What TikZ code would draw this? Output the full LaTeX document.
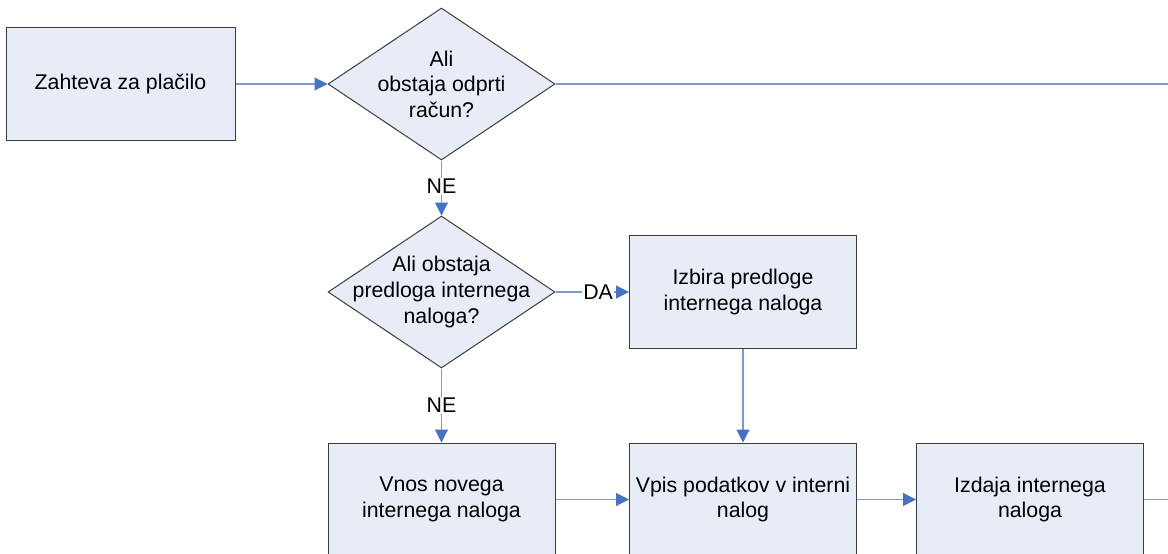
\documentclass[tikz,border=0pt]{standalone}
\usepackage{fontspec}
\setmainfont{Liberation Sans}
\usetikzlibrary{arrows.meta,shapes.geometric}
\definecolor{boxfill}{RGB}{231,236,247}
\definecolor{boxline}{RGB}{60,60,60}
\definecolor{conn}{RGB}{120,155,210}
\definecolor{tipc}{RGB}{70,114,196}
\tikzset{
  every node/.style={font=\fontsize{21.3}{25.6}\selectfont, text=black},
  procbox/.style={draw=boxline, line width=1pt, fill=boxfill, rectangle, minimum width=227pt, minimum height=113pt, inner sep=0pt, align=center},
  decbox/.style={draw=boxline, line width=1pt, fill=boxfill, diamond, minimum width=227pt, minimum height=152pt, inner sep=0pt},
  dectext/.style={align=center, inner sep=0pt},
  conn/.style={draw=conn, line width=1.1pt, -{Triangle[length=13pt,width=13pt,color=tipc,fill=tipc]}},
  connplain/.style={draw=conn, line width=1.1pt},
  lab/.style={fill=white, inner sep=1.5pt}
}
\begin{document}
\begin{tikzpicture}[x=1pt,y=-1pt]
\useasboundingbox (0,0) rectangle (1168,554);
\clip (0,0) rectangle (1168,554);
\node[procbox, minimum width=229pt] (b1) at (120.5,84) {Zahteva za plačilo};
\node[decbox] (d1) at (441.5,84) {};
\node[dectext] (d1t) at (d1) {Ali\\obstaja odprti\\račun?};
\node[decbox] (d2) at (441.5,292) {};
\node[dectext] (d2t) at (d2) {Ali obstaja\\predloga internega\\naloga?};
\node[procbox] (b2) at (743,292) {Izbira predloge\\internega naloga};
\node[procbox] (b3) at (441.5,499.5) {Vnos novega\\internega naloga};
\node[procbox] (b4) at (743,499.5) {Vpis podatkov v interni\\nalog};
\node[procbox] (b5) at (1030,499.5) {Izdaja internega\\naloga};
\coordinate (e1) at (1170,84);
\coordinate (e2) at (1170,499.5);

\draw[conn] (b1.east) -- (d1.west);
\draw[connplain] (d1.east) -- (e1);
\draw[conn] (d1.south) -- node[lab, pos=0.47] (ne1) {NE} (d2.north);
\draw[conn] (d2.east) -- node[lab, pos=0.58] (da) {DA} (b2.west);
\draw[conn] (d2.south) -- node[lab, pos=0.5] (ne2) {NE} (b3.north);
\draw[conn] (b2.south) -- (b4.north);
\draw[conn] (b3.east) -- (b4.west);
\draw[conn] (b4.east) -- (b5.west);
\draw[connplain] (b5.east) -- (e2);
\end{tikzpicture}
\end{document}
